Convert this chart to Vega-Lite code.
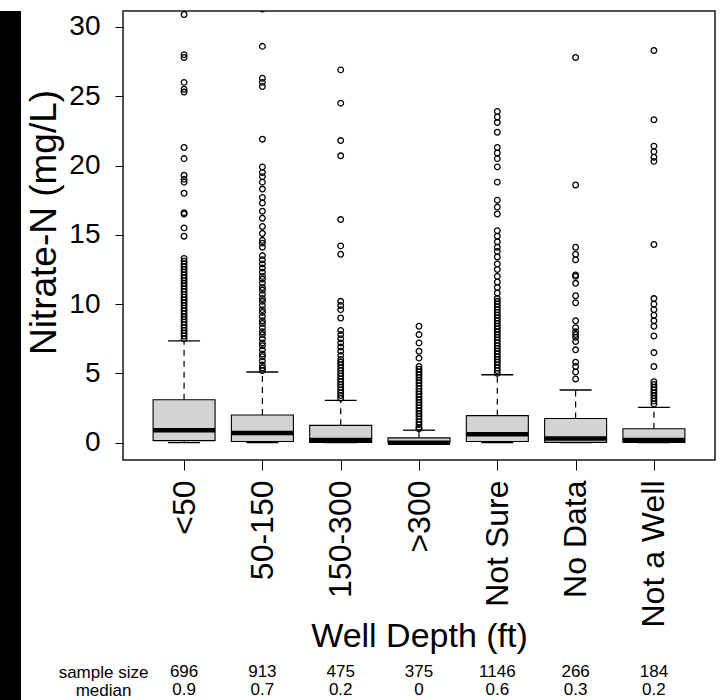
{
  "$schema": "https://vega.github.io/schema/vega-lite/v6.json",
  "background": "white",
  "padding": {"left": 0, "top": 10, "right": 0, "bottom": 0},
  "config": {"font": "Liberation Sans", "axis": {"labelColor": "black", "titleColor": "black", "tickColor": "black", "grid": false, "titleFontWeight": "normal"}},
  "datasets": {
    "boxes": [
      {"cat": "<50", "lw": 0, "q1": 0.15, "med": 0.9, "q3": 3.1, "uw": 7.35},
      {"cat": "50-150", "lw": 0, "q1": 0.08, "med": 0.7, "q3": 2.0, "uw": 5.1},
      {"cat": "150-300", "lw": 0, "q1": 0.02, "med": 0.2, "q3": 1.25, "uw": 3.05},
      {"cat": ">300", "lw": 0, "q1": 0, "med": 0, "q3": 0.35, "uw": 0.9},
      {"cat": "Not Sure", "lw": 0, "q1": 0.08, "med": 0.6, "q3": 1.95, "uw": 4.9},
      {"cat": "No Data", "lw": 0, "q1": 0.02, "med": 0.3, "q3": 1.75, "uw": 3.8},
      {"cat": "Not a Well", "lw": 0, "q1": 0.02, "med": 0.2, "q3": 1.0, "uw": 2.55}
    ],
    "outliers": [
      {"cat": "<50", "v": 30.9}, {"cat": "<50", "v": 28.0}, {"cat": "<50", "v": 27.8}, {"cat": "<50", "v": 26.0}, {"cat": "<50", "v": 25.5}, {"cat": "<50", "v": 25.3}, {"cat": "<50", "v": 21.3}, {"cat": "<50", "v": 20.5}, {"cat": "<50", "v": 19.3}, {"cat": "<50", "v": 19.0}, {"cat": "<50", "v": 18.8}, {"cat": "<50", "v": 18.0}, {"cat": "<50", "v": 16.6}, {"cat": "<50", "v": 16.5}, {"cat": "<50", "v": 15.5}, {"cat": "<50", "v": 14.9}, {"cat": "<50", "v": 13.3}, {"cat": "<50", "v": 13.1}, {"cat": "<50", "v": 12.9}, {"cat": "<50", "v": 12.7}, {"cat": "<50", "v": 12.5}, {"cat": "<50", "v": 12.3}, {"cat": "<50", "v": 12.1}, {"cat": "<50", "v": 11.9}, {"cat": "<50", "v": 11.7}, {"cat": "<50", "v": 11.5}, {"cat": "<50", "v": 11.3}, {"cat": "<50", "v": 11.1}, {"cat": "<50", "v": 10.9}, {"cat": "<50", "v": 10.7}, {"cat": "<50", "v": 10.5}, {"cat": "<50", "v": 10.3}, {"cat": "<50", "v": 10.1}, {"cat": "<50", "v": 9.9}, {"cat": "<50", "v": 9.7}, {"cat": "<50", "v": 9.5}, {"cat": "<50", "v": 9.3}, {"cat": "<50", "v": 9.1}, {"cat": "<50", "v": 8.9}, {"cat": "<50", "v": 8.7}, {"cat": "<50", "v": 8.5}, {"cat": "<50", "v": 8.3}, {"cat": "<50", "v": 8.1}, {"cat": "<50", "v": 7.9}, {"cat": "<50", "v": 7.7}, {"cat": "<50", "v": 7.5},
      {"cat": "50-150", "v": 31.3}, {"cat": "50-150", "v": 28.6}, {"cat": "50-150", "v": 26.3}, {"cat": "50-150", "v": 26.0}, {"cat": "50-150", "v": 25.7}, {"cat": "50-150", "v": 21.9}, {"cat": "50-150", "v": 19.9}, {"cat": "50-150", "v": 19.5}, {"cat": "50-150", "v": 19.2}, {"cat": "50-150", "v": 18.8}, {"cat": "50-150", "v": 18.3}, {"cat": "50-150", "v": 17.7}, {"cat": "50-150", "v": 17.3}, {"cat": "50-150", "v": 16.7}, {"cat": "50-150", "v": 16.2}, {"cat": "50-150", "v": 15.6}, {"cat": "50-150", "v": 15.1}, {"cat": "50-150", "v": 14.6}, {"cat": "50-150", "v": 14.4}, {"cat": "50-150", "v": 14.1}, {"cat": "50-150", "v": 13.5}, {"cat": "50-150", "v": 13.2}, {"cat": "50-150", "v": 12.9}, {"cat": "50-150", "v": 12.6}, {"cat": "50-150", "v": 12.3}, {"cat": "50-150", "v": 12.0}, {"cat": "50-150", "v": 11.8}, {"cat": "50-150", "v": 11.5}, {"cat": "50-150", "v": 11.2}, {"cat": "50-150", "v": 11.0}, {"cat": "50-150", "v": 10.7}, {"cat": "50-150", "v": 10.4}, {"cat": "50-150", "v": 10.2}, {"cat": "50-150", "v": 9.9}, {"cat": "50-150", "v": 9.6}, {"cat": "50-150", "v": 9.4}, {"cat": "50-150", "v": 9.1}, {"cat": "50-150", "v": 8.8}, {"cat": "50-150", "v": 8.6}, {"cat": "50-150", "v": 8.3}, {"cat": "50-150", "v": 8.0}, {"cat": "50-150", "v": 7.8}, {"cat": "50-150", "v": 7.5}, {"cat": "50-150", "v": 7.2}, {"cat": "50-150", "v": 7.0}, {"cat": "50-150", "v": 6.7}, {"cat": "50-150", "v": 6.4}, {"cat": "50-150", "v": 6.2}, {"cat": "50-150", "v": 5.9}, {"cat": "50-150", "v": 5.6}, {"cat": "50-150", "v": 5.4}, {"cat": "50-150", "v": 5.2},
      {"cat": "150-300", "v": 26.9}, {"cat": "150-300", "v": 24.5}, {"cat": "150-300", "v": 21.8}, {"cat": "150-300", "v": 20.7}, {"cat": "150-300", "v": 16.1}, {"cat": "150-300", "v": 14.2}, {"cat": "150-300", "v": 13.6}, {"cat": "150-300", "v": 10.2}, {"cat": "150-300", "v": 9.9}, {"cat": "150-300", "v": 9.6}, {"cat": "150-300", "v": 9.0}, {"cat": "150-300", "v": 8.1}, {"cat": "150-300", "v": 7.8}, {"cat": "150-300", "v": 7.5}, {"cat": "150-300", "v": 7.2}, {"cat": "150-300", "v": 6.9}, {"cat": "150-300", "v": 6.6}, {"cat": "150-300", "v": 6.3}, {"cat": "150-300", "v": 6.0}, {"cat": "150-300", "v": 5.8}, {"cat": "150-300", "v": 5.6}, {"cat": "150-300", "v": 5.4}, {"cat": "150-300", "v": 5.2}, {"cat": "150-300", "v": 5.0}, {"cat": "150-300", "v": 4.8}, {"cat": "150-300", "v": 4.6}, {"cat": "150-300", "v": 4.4}, {"cat": "150-300", "v": 4.2}, {"cat": "150-300", "v": 4.0}, {"cat": "150-300", "v": 3.8}, {"cat": "150-300", "v": 3.6}, {"cat": "150-300", "v": 3.4}, {"cat": "150-300", "v": 3.2},
      {"cat": ">300", "v": 8.4}, {"cat": ">300", "v": 7.8}, {"cat": ">300", "v": 7.2}, {"cat": ">300", "v": 6.6}, {"cat": ">300", "v": 6.1}, {"cat": ">300", "v": 5.5}, {"cat": ">300", "v": 5.3}, {"cat": ">300", "v": 5.1}, {"cat": ">300", "v": 4.9}, {"cat": ">300", "v": 4.7}, {"cat": ">300", "v": 4.5}, {"cat": ">300", "v": 4.3}, {"cat": ">300", "v": 4.1}, {"cat": ">300", "v": 3.9}, {"cat": ">300", "v": 3.7}, {"cat": ">300", "v": 3.5}, {"cat": ">300", "v": 3.3}, {"cat": ">300", "v": 3.1}, {"cat": ">300", "v": 2.9}, {"cat": ">300", "v": 2.7}, {"cat": ">300", "v": 2.5}, {"cat": ">300", "v": 2.3}, {"cat": ">300", "v": 2.1}, {"cat": ">300", "v": 1.9}, {"cat": ">300", "v": 1.7}, {"cat": ">300", "v": 1.5}, {"cat": ">300", "v": 1.3}, {"cat": ">300", "v": 1.1}, {"cat": ">300", "v": 1.0},
      {"cat": "Not Sure", "v": 23.9}, {"cat": "Not Sure", "v": 23.5}, {"cat": "Not Sure", "v": 23.1}, {"cat": "Not Sure", "v": 22.4}, {"cat": "Not Sure", "v": 21.3}, {"cat": "Not Sure", "v": 20.9}, {"cat": "Not Sure", "v": 20.5}, {"cat": "Not Sure", "v": 19.9}, {"cat": "Not Sure", "v": 18.8}, {"cat": "Not Sure", "v": 17.5}, {"cat": "Not Sure", "v": 17.0}, {"cat": "Not Sure", "v": 16.5}, {"cat": "Not Sure", "v": 15.3}, {"cat": "Not Sure", "v": 14.9}, {"cat": "Not Sure", "v": 14.5}, {"cat": "Not Sure", "v": 14.1}, {"cat": "Not Sure", "v": 13.8}, {"cat": "Not Sure", "v": 13.4}, {"cat": "Not Sure", "v": 12.9}, {"cat": "Not Sure", "v": 12.5}, {"cat": "Not Sure", "v": 12.0}, {"cat": "Not Sure", "v": 11.6}, {"cat": "Not Sure", "v": 11.2}, {"cat": "Not Sure", "v": 10.8}, {"cat": "Not Sure", "v": 10.4}, {"cat": "Not Sure", "v": 10.2}, {"cat": "Not Sure", "v": 10.0}, {"cat": "Not Sure", "v": 9.8}, {"cat": "Not Sure", "v": 9.6}, {"cat": "Not Sure", "v": 9.4}, {"cat": "Not Sure", "v": 9.2}, {"cat": "Not Sure", "v": 9.0}, {"cat": "Not Sure", "v": 8.8}, {"cat": "Not Sure", "v": 8.6}, {"cat": "Not Sure", "v": 8.4}, {"cat": "Not Sure", "v": 8.2}, {"cat": "Not Sure", "v": 8.0}, {"cat": "Not Sure", "v": 7.8}, {"cat": "Not Sure", "v": 7.6}, {"cat": "Not Sure", "v": 7.4}, {"cat": "Not Sure", "v": 7.2}, {"cat": "Not Sure", "v": 7.0}, {"cat": "Not Sure", "v": 6.8}, {"cat": "Not Sure", "v": 6.6}, {"cat": "Not Sure", "v": 6.4}, {"cat": "Not Sure", "v": 6.2}, {"cat": "Not Sure", "v": 6.0}, {"cat": "Not Sure", "v": 5.8}, {"cat": "Not Sure", "v": 5.6}, {"cat": "Not Sure", "v": 5.4}, {"cat": "Not Sure", "v": 5.2}, {"cat": "Not Sure", "v": 5.0},
      {"cat": "No Data", "v": 27.8}, {"cat": "No Data", "v": 18.6}, {"cat": "No Data", "v": 14.1}, {"cat": "No Data", "v": 13.6}, {"cat": "No Data", "v": 13.2}, {"cat": "No Data", "v": 12.1}, {"cat": "No Data", "v": 12.0}, {"cat": "No Data", "v": 11.5}, {"cat": "No Data", "v": 10.6}, {"cat": "No Data", "v": 10.1}, {"cat": "No Data", "v": 8.8}, {"cat": "No Data", "v": 8.3}, {"cat": "No Data", "v": 8.0}, {"cat": "No Data", "v": 7.8}, {"cat": "No Data", "v": 7.6}, {"cat": "No Data", "v": 7.3}, {"cat": "No Data", "v": 6.7}, {"cat": "No Data", "v": 5.8}, {"cat": "No Data", "v": 5.5}, {"cat": "No Data", "v": 5.1}, {"cat": "No Data", "v": 4.6},
      {"cat": "Not a Well", "v": 28.3}, {"cat": "Not a Well", "v": 23.3}, {"cat": "Not a Well", "v": 21.4}, {"cat": "Not a Well", "v": 21.0}, {"cat": "Not a Well", "v": 20.6}, {"cat": "Not a Well", "v": 20.3}, {"cat": "Not a Well", "v": 14.3}, {"cat": "Not a Well", "v": 10.4}, {"cat": "Not a Well", "v": 10.0}, {"cat": "Not a Well", "v": 9.6}, {"cat": "Not a Well", "v": 9.2}, {"cat": "Not a Well", "v": 8.8}, {"cat": "Not a Well", "v": 8.4}, {"cat": "Not a Well", "v": 7.7}, {"cat": "Not a Well", "v": 6.5}, {"cat": "Not a Well", "v": 5.5}, {"cat": "Not a Well", "v": 4.4}, {"cat": "Not a Well", "v": 4.2}, {"cat": "Not a Well", "v": 4.0}, {"cat": "Not a Well", "v": 3.8}, {"cat": "Not a Well", "v": 3.6}, {"cat": "Not a Well", "v": 3.4}, {"cat": "Not a Well", "v": 3.2}, {"cat": "Not a Well", "v": 3.0}, {"cat": "Not a Well", "v": 2.8}
    ],
    "table": [
      {"cat": "<50", "row": "sample size", "txt": "696"}, {"cat": "50-150", "row": "sample size", "txt": "913"}, {"cat": "150-300", "row": "sample size", "txt": "475"}, {"cat": ">300", "row": "sample size", "txt": "375"}, {"cat": "Not Sure", "row": "sample size", "txt": "1146"}, {"cat": "No Data", "row": "sample size", "txt": "266"}, {"cat": "Not a Well", "row": "sample size", "txt": "184"},
      {"cat": "<50", "row": "median", "txt": "0.9"}, {"cat": "50-150", "row": "median", "txt": "0.7"}, {"cat": "150-300", "row": "median", "txt": "0.2"}, {"cat": ">300", "row": "median", "txt": "0"}, {"cat": "Not Sure", "row": "median", "txt": "0.6"}, {"cat": "No Data", "row": "median", "txt": "0.3"}, {"cat": "Not a Well", "row": "median", "txt": "0.2"}
    ]
  },
  "spacing": 4,
  "hconcat": [
    {
      "width": 21,
      "height": 690,
      "data": {"values": [{"a": 0}]},
      "mark": {"type": "text", "text": ""},
      "encoding": {},
      "view": {"fill": "black", "stroke": null}
    },
    {
      "bounds": "flush",
      "spacing": 203,
      "resolve": {"scale": {"x": "shared", "y": "independent"}},
      "vconcat": [
        {
          "width": 592,
          "height": 449,
          "view": {"stroke": "#1a1a1a", "strokeWidth": 1.5},
          "encoding": {
            "x": {
              "field": "cat", "type": "nominal",
              "scale": {"type": "point", "padding": 0.78, "domain": ["<50", "50-150", "150-300", ">300", "Not Sure", "No Data", "Not a Well"]},
              "axis": {"title": "Well Depth (ft)", "titleFontSize": 34, "titleY": 186, "titleBaseline": "alphabetic", "labelAngle": 270, "labelFontSize": 32, "labelPadding": 10, "tickSize": 10, "domain": false}
            }
          },
          "layer": [
            {
              "data": {"name": "boxes"},
              "mark": {"type": "rule", "color": "black", "strokeWidth": 1.2, "strokeDash": [6, 5]},
              "encoding": {
                "y": {"field": "q3", "type": "quantitative", "scale": {"domain": [-1.25, 31.15], "nice": false, "zero": false},
                  "axis": {"title": "Nitrate-N (mg/L)", "titleFontSize": 37, "titlePadding": 5, "titleY": 211, "values": [0, 5, 10, 15, 20, 25, 30], "labelFontSize": 28, "labelPadding": 15, "tickSize": 8, "domain": false}},
                "y2": {"field": "uw"}
              }
            },
            {
              "data": {"name": "boxes"},
              "mark": {"type": "rule", "color": "black", "strokeWidth": 1.2, "strokeDash": [6, 5]},
              "encoding": {"y": {"field": "lw", "type": "quantitative"}, "y2": {"field": "q1"}}
            },
            {
              "data": {"name": "boxes"},
              "mark": {"type": "tick", "color": "black", "opacity": 1, "size": 32, "thickness": 1.3},
              "encoding": {"y": {"field": "uw", "type": "quantitative"}}
            },
            {
              "data": {"name": "boxes"},
              "mark": {"type": "tick", "color": "black", "opacity": 1, "size": 32, "thickness": 1.3},
              "encoding": {"y": {"field": "lw", "type": "quantitative"}}
            },
            {
              "data": {"name": "boxes"},
              "mark": {"type": "bar", "size": 62, "fill": "#d3d3d3", "stroke": "black", "strokeWidth": 1.1, "opacity": 1},
              "encoding": {"y": {"field": "q1", "type": "quantitative"}, "y2": {"field": "q3"}}
            },
            {
              "data": {"name": "boxes"},
              "mark": {"type": "tick", "color": "black", "opacity": 1, "size": 62, "thickness": 4.5},
              "encoding": {"y": {"field": "med", "type": "quantitative"}}
            },
            {
              "data": {"name": "outliers"},
              "mark": {"type": "point", "shape": "circle", "filled": false, "color": "black", "opacity": 1, "size": 32, "strokeWidth": 1.3, "clip": true},
              "encoding": {"y": {"field": "v", "type": "quantitative"}}
            }
          ]
        },
        {
          "width": 592,
          "height": 36,
          "view": {"stroke": null},
          "data": {"name": "table"},
          "mark": {"type": "text", "fontSize": 17, "color": "black", "baseline": "middle", "align": "center"},
          "encoding": {
            "x": {"field": "cat", "type": "nominal", "axis": null},
            "y": {"field": "row", "type": "nominal", "scale": {"type": "point", "padding": 0.5, "domain": ["sample size", "median"]},
              "axis": {"title": null, "domain": false, "ticks": false, "labelAlign": "center", "labelPadding": 20, "labelFontSize": 17}},
            "text": {"field": "txt"}
          }
        }
      ]
    }
  ]
}
